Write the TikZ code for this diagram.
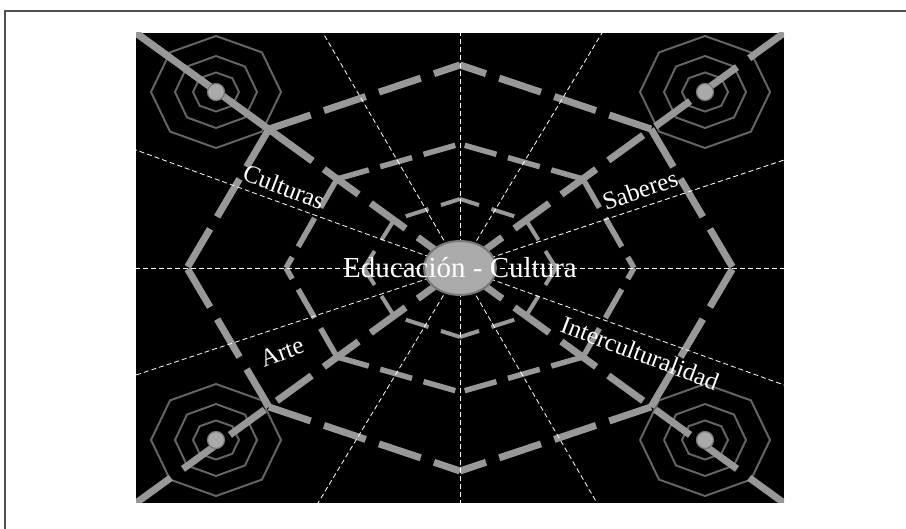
\documentclass[tikz,border=0pt]{standalone}
\usepackage{fontspec}
\setmainfont{Liberation Serif}
\usetikzlibrary{positioning,shapes.geometric}

\definecolor{webgray}{RGB}{152,152,152}
\definecolor{octgray}{RGB}{100,100,100}
\definecolor{hubgray}{RGB}{170,170,170}
\definecolor{hubedge}{RGB}{118,118,118}
\definecolor{framegray}{RGB}{80,80,80}

\begin{document}
\begin{tikzpicture}[x=1pt, y=-1pt,
    ray/.style={white, line width=0.8pt, dash pattern=on 5pt off 3pt},
    spoke/.style={webgray, line width=7pt, dash pattern=on 43pt off 15pt},
    ringA/.style={webgray, line width=7pt, dash pattern=on 44pt off 14pt},
    ringB/.style={webgray, line width=5.5pt, dash pattern=on 33pt off 12pt},
    ringC/.style={webgray, line width=4pt, dash pattern=on 20pt off 13pt on 24pt off 13pt},
    octo/.style={octgray, line width=2pt},
    dot/.style={circle, fill=hubgray, draw=hubedge, line width=1.2pt,
                minimum size=17pt, inner sep=0pt},
    hub/.style={ellipse, fill=hubgray, draw=hubedge, line width=2pt,
                minimum width=72pt, minimum height=54pt, inner sep=0pt},
    tag/.style={text=white, inner sep=0pt, font=\fontsize{25}{25}\selectfont}
  ]
  \useasboundingbox (0,0) rectangle (906,529);
  \draw[framegray, line width=1.5pt] (5,529) -- (5,11) -- (906,11);
  \fill[black] (136,33) rectangle (784,503);
  \coordinate (c) at (460,268);
  \coordinate (ul) at (136,33);
  \coordinate (ur) at (784,33);
  \coordinate (ll) at (136,503);
  \coordinate (lr) at (784,503);
  \coordinate (ulsolid) at (312.6,161);
  \begin{scope}
    \clip (136,33) rectangle (784,503);
    \foreach \tx/\ty in {216/92,705/92,216/440,705/440}
      \foreach \rx/\ry in {65/56,41/36,23/19.5}
        \draw[octo] (\tx,\ty) +(0:\rx pt and \ry pt) -- +(45:\rx pt and \ry pt)
          -- +(90:\rx pt and \ry pt) -- +(135:\rx pt and \ry pt) -- +(180:\rx pt and \ry pt)
          -- +(225:\rx pt and \ry pt) -- +(270:\rx pt and \ry pt) -- +(315:\rx pt and \ry pt) -- cycle;
    \foreach \sx/\sy in {-1/-1,1/-1,-1/1,1/1} {
      \draw[ringA] ({460+\sx*191},{268+\sy*139}) -- (460,{268+\sy*203});
      \draw[ringA] ({460+\sx*191},{268+\sy*139}) -- ({460+\sx*273},268);
      \draw[ringB] ({460+\sx*123},{268+\sy*89}) -- (460,{268+\sy*124});
      \draw[ringB] ({460+\sx*123},{268+\sy*89}) -- ({460+\sx*174},268);
      \draw[ringC] (460,{268+\sy*69}) -- ({460+\sx*66},{268+\sy*48});
      \draw[ringC] ({460+\sx*96},268) -- ({460+\sx*66},{268+\sy*48});
    }
    \draw[spoke] (ul) -- (c);
    \draw[spoke] (ur) -- (c);
    \draw[spoke] (ll) -- (c);
    \draw[spoke] (lr) -- (c);
    \draw[webgray, line width=7pt] (ul) -- (ulsolid);
    \foreach \p in {(460,33),(602,33),(784,160),(784,268),(784,385),(597,503),
                    (460,503),(318,503),(136,375),(136,268),(136,150),(323,33)}
      \draw[ray] (c) -- \p;
  \end{scope}
  \node[dot] (tul) at (216,92) {};
  \node[dot] (tur) at (705,92) {};
  \node[dot] (tll) at (216,440) {};
  \node[dot] (tlr) at (705,440) {};
  \node[hub] (hub) at (c) {};
  \node[tag, font=\fontsize{29}{29}\selectfont] (title) at (hub.center) {Educación - Cultura};
  \node[tag, rotate=-21] (cult) at (284,187) {Culturas};
  \node[tag, rotate=19] (sab) at (640,190) {Saberes};
  \node[tag, rotate=20] (arte) at (282,352) {Arte};
  \node[tag, rotate=-21] (inter) at (640,353) {Interculturalidad};
\end{tikzpicture}
\end{document}
